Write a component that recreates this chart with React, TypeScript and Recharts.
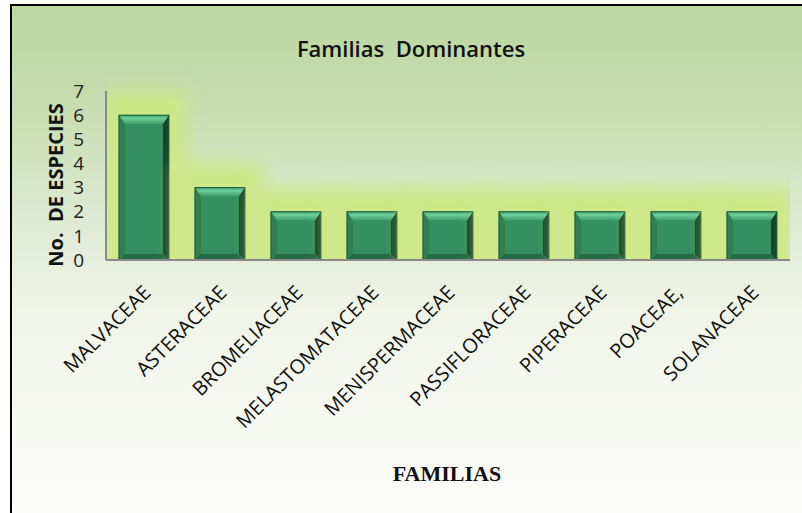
import React from 'react';
import { BarChart, Bar, XAxis, YAxis, Label } from 'recharts';

const families = [
  'MALVACEAE',
  'ASTERACEAE',
  'BROMELIACEAE',
  'MELASTOMATACEAE',
  'MENISPERMACEAE',
  'PASSIFLORACEAE',
  'PIPERACEAE',
  'POACEAE,',
  'SOLANACEAE',
];
const species = [6, 3, 2, 2, 2, 2, 2, 2, 2];
const yTicks = [0, 1, 2, 3, 4, 5, 6, 7];

const chartTitle = 'Familias  Dominantes';
const yTitle = 'No.  DE ESPECIES';
const xTitle = 'FAMILIAS';

const data = families.map((f, i) => ({ familia: f, especies: species[i] }));

const W = 802;
const H = 513;

const XTick = (props: any) => {
  const { x, y, payload } = props;
  const ax = x + 8;
  const ay = y + 34;
  return (
    <text
      x={ax}
      y={ay}
      transform={`rotate(-45 ${ax} ${ay})`}
      textAnchor="end"
      fontFamily="'Open Sans', sans-serif"
      fontSize={20}
      fill="#111"
    >
      {payload.value}
    </text>
  );
};

const BevelBar = (props: any) => {
  const { x, y, width: w, height: h, index } = props;
  if (h == null || w == null) return null;
  const b = 6;
  const bt = 9;
  const base = y + h;
  const last = index === families.length - 1;
  const clipLeft = index === 0 ? x - 13 : x - 120;
  const clipRight = last ? x + w + 13 : x + w + 120;
  const gid = `glow-${index}`;
  const cid = `clip-${index}`;
  const tg = `top-${index}`;
  return (
    <g>
      <defs>
        <filter id={gid} x="-100%" y="-100%" width="300%" height="300%">
          <feGaussianBlur stdDeviation="9" />
        </filter>
        <clipPath id={cid}>
          <rect x={clipLeft} y={0} width={clipRight - clipLeft} height={base} />
        </clipPath>
        <linearGradient id={tg} x1="0" y1="0" x2="0" y2="1">
          <stop offset="0%" stopColor="#3f9e6a" />
          <stop offset="35%" stopColor="#6ccf9a" />
          <stop offset="100%" stopColor="#3e9a66" />
        </linearGradient>
      </defs>
      <g clipPath={`url(#${cid})`}>
        <rect
          x={x - 18}
          y={y - 24}
          width={w + 36}
          height={h + 44}
          fill="#cde886"
          filter={`url(#${gid})`}
        />
      </g>
      <rect x={x} y={y} width={w} height={h} fill="#358f5e" />
      <polygon
        points={`${x},${y} ${x + w},${y} ${x + w - b},${y + bt} ${x + b},${y + bt}`}
        fill={`url(#${tg})`}
      />
      <polygon
        points={`${x + w},${y} ${x + w},${base} ${x + w - b},${base - b} ${x + w - b},${y + bt}`}
        fill="#184629"
      />
      <polygon
        points={`${x},${y} ${x + b},${y + bt} ${x + b},${base - b} ${x},${base}`}
        fill="#2f8053"
      />
      <polygon
        points={`${x},${base} ${x + b},${base - b} ${x + w - b},${base - b} ${x + w},${base}`}
        fill="#256a44"
      />
      <rect x={x} y={y} width={w} height={h} fill="none" stroke="#1f5a38" strokeWidth={1} />
    </g>
  );
};

const YLabel = () => (
  <text
    x={55}
    y={185}
    transform="rotate(-90 55 185)"
    textAnchor="middle"
    dominantBaseline="central"
    fontFamily="'Open Sans', sans-serif"
    fontWeight={700}
    fontSize={20}
    fill="#111"
    style={{ whiteSpace: 'pre' }}
  >
    {yTitle}
  </text>
);

const XLabel = () => (
  <text
    x={447}
    y={481}
    textAnchor="middle"
    fontFamily="'Liberation Serif', 'Times New Roman', serif"
    fontWeight={700}
    fontSize={22}
    fill="#111"
  >
    {xTitle}
  </text>
);

export default function App() {
  return (
    <div style={{ position: 'absolute', left: 0, top: 0, width: W, height: H, background: '#ffffff' }}>
      <svg
        width={W}
        height={H}
        style={{ position: 'absolute', left: 0, top: 0 }}
      >
        <defs>
          <linearGradient id="bg" x1="0" y1="0" x2="0" y2="1">
            <stop offset="0%" stopColor="#bad7a0" />
            <stop offset="18%" stopColor="#c5dcae" />
            <stop offset="38%" stopColor="#dae7cc" />
            <stop offset="60%" stopColor="#f0f4e9" />
            <stop offset="100%" stopColor="#fcfcfa" />
          </linearGradient>
        </defs>
        <rect x={11} y={5} width={W - 11} height={H - 5} fill="url(#bg)" />
        <line x1={11} y1={5} x2={W} y2={5} stroke="#000" strokeWidth={2} />
        <line x1={11} y1={4} x2={11} y2={H} stroke="#000" strokeWidth={2} />
        <text
          x={411}
          y={57}
          textAnchor="middle"
          fontFamily="'Open Sans', sans-serif"
          fontWeight={600}
          fontSize={22}
          fill="#111"
          style={{ whiteSpace: 'pre' }}
        >
          {chartTitle}
        </text>
      </svg>
      <div style={{ position: 'absolute', left: 0, top: 0 }}>
        <BarChart
          width={W}
          height={H}
          data={data}
          margin={{ top: 91, right: 12, bottom: 53, left: 46 }}
          barCategoryGap="17%"
        >
          <XAxis
            dataKey="familia"
            height={200}
            interval={0}
            tickLine={false}
            tickSize={0}
            tickMargin={0}
            axisLine={{ stroke: '#8a8a8a', strokeWidth: 2 }}
            tick={<XTick />}
          >
            <Label content={<XLabel />} />
          </XAxis>
          <YAxis
            width={60}
            domain={[0, 7]}
            ticks={yTicks}
            interval={0}
            tickLine={false}
            tickSize={0}
            tickMargin={22}
            axisLine={{ stroke: '#8a8a8a', strokeWidth: 2 }}
            tick={{ fontFamily: "'Open Sans', sans-serif", fontSize: 19, fill: '#222' }}
          >
            <Label content={<YLabel />} />
          </YAxis>
          <Bar dataKey="especies" shape={<BevelBar />} isAnimationActive={false} />
        </BarChart>
      </div>
    </div>
  );
}
